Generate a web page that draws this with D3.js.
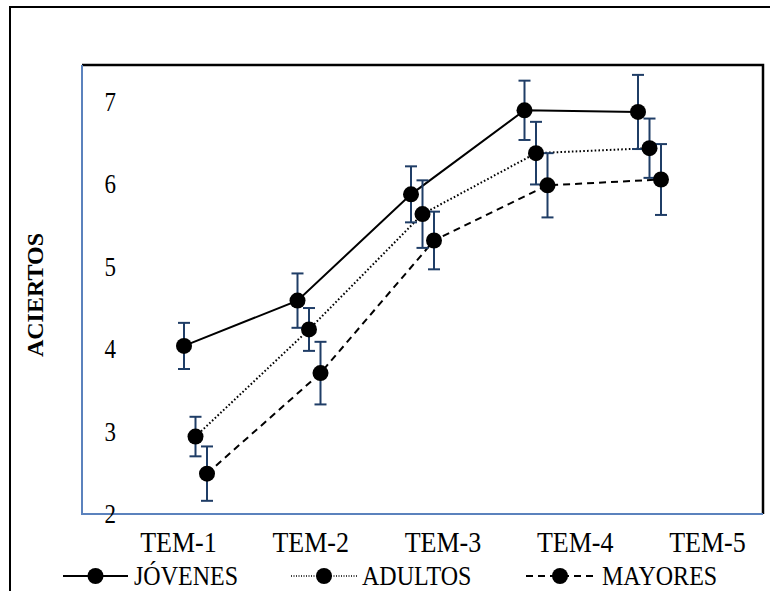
<!DOCTYPE html>
<html>
<head>
<meta charset="utf-8">
<script src="https://cdn.jsdelivr.net/npm/d3@7"></script>
<style>
  html, body { margin: 0; padding: 0; background: #fff; }
  svg { display: block; font-family: "Liberation Serif", "Times New Roman", serif; }
</style>
</head>
<body>
<svg id="chart" width="770" height="591"></svg>
<script>
// Sessions and group means (aciertos) with their error margins
const categories = ["TEM-1", "TEM-2", "TEM-3", "TEM-4", "TEM-5"];
const jovenes = [4.04, 4.59, 5.88, 6.90, 6.88];
const jovenesErr = [0.28, 0.33, 0.34, 0.36, 0.45];
const adultos = [2.94, 4.24, 5.64, 6.38, 6.44];
const adultosErr = [0.24, 0.26, 0.41, 0.38, 0.36];
const mayores = [2.49, 3.71, 5.32, 5.99, 6.06];
const mayoresErr = [0.33, 0.38, 0.35, 0.39, 0.43];
const yTicks = [2, 3, 4, 5, 6, 7];
const seriesNames = ["JÓVENES", "ADULTOS", "MAYORES"];

const series = [
  { name: seriesNames[0], values: jovenes, err: jovenesErr, offset: -1, dash: null, width: 2 },
  { name: seriesNames[1], values: adultos, err: adultosErr, offset: 0, dash: "1.6,2.2", width: 2 },
  { name: seriesNames[2], values: mayores, err: mayoresErr, offset: 1, dash: "7,5", width: 2 }
];

const svg = d3.select("#chart");
const plot = { left: 82, right: 763, top: 65, bottom: 514 };
const serif = "Liberation Serif, Times New Roman, serif";
const tall = 1.15; // glyphs are drawn slightly taller than wide

// Session slots 1..5 inside a 0..6 span; groups are nudged sideways within each slot
const x = d3.scaleLinear().domain([0, 6]).range([plot.left, plot.right]);
const groupShift = 11.5;
const y = d3.scaleLinear().domain([2, 7.45]).range([plot.bottom, plot.top]);
const xLabel = d3.scalePoint().domain(categories).range([178, 707]);

// Outer frame (left and top edges)
svg.append("path")
  .attr("d", "M10,591 L10,7 L770,7")
  .attr("fill", "none").attr("stroke", "#000").attr("stroke-width", 2);

// Plot frame: dark top/right, blue left/bottom
svg.append("path")
  .attr("d", `M${plot.left},${plot.top} L${plot.right},${plot.top} L${plot.right},${plot.bottom}`)
  .attr("fill", "none").attr("stroke", "#000").attr("stroke-width", 2.5);
svg.append("path")
  .attr("d", `M${plot.left},${plot.top} L${plot.left},${plot.bottom} L${plot.right},${plot.bottom}`)
  .attr("fill", "none").attr("stroke", "#5b82bd").attr("stroke-width", 2);

// Y axis tick labels (each tick group sits on its value, so scaling keeps them centred)
const yAxis = d3.axisLeft(y).tickValues(yTicks).tickSize(0).tickPadding(0).tickFormat(d3.format("d"));
const gy = svg.append("g").attr("transform", "translate(116,0)").call(yAxis);
gy.select(".domain").remove();
gy.selectAll("text")
  .attr("font-family", serif)
  .attr("font-size", 23).attr("fill", "#000")
  .attr("dy", "0.32em")
  .attr("transform", `scale(1,${tall})`);

// Y axis title
svg.append("text")
  .attr("transform", "translate(43,295) rotate(-90)")
  .attr("text-anchor", "middle")
  .attr("font-family", serif)
  .attr("font-size", 24).attr("font-weight", "bold")
  .text("ACIERTOS");

// X category labels
const xAxis = d3.axisBottom(xLabel).tickSize(0).tickPadding(0);
const gx = svg.append("g").attr("transform", "translate(0,531)").call(xAxis);
gx.select(".domain").remove();
gx.selectAll("text")
  .attr("font-family", serif)
  .attr("font-size", 26).attr("fill", "#000")
  .attr("transform", `scale(1,${tall})`);

const px = (s, i) => x(i + 1) + s.offset * groupShift;

// Series lines
const line = d3.line().x(d => d.x).y(d => d.y);
series.forEach(s => {
  const pts = s.values.map((v, i) => ({ x: px(s, i), y: y(v) }));
  svg.append("path")
    .attr("d", line(pts))
    .attr("fill", "none").attr("stroke", "#000")
    .attr("stroke-width", s.width)
    .attr("stroke-dasharray", s.dash);
});

// Error bars
const errColor = "#1f3d66";
const capHalf = 6;
series.forEach(s => {
  const g = svg.append("g").attr("stroke", errColor).attr("stroke-width", 2);
  s.values.forEach((v, i) => {
    const cx = px(s, i);
    const y0 = y(v - s.err[i]), y1 = y(v + s.err[i]);
    g.append("line").attr("x1", cx).attr("x2", cx).attr("y1", y0).attr("y2", y1);
    g.append("line").attr("x1", cx - capHalf).attr("x2", cx + capHalf).attr("y1", y0).attr("y2", y0);
    g.append("line").attr("x1", cx - capHalf).attr("x2", cx + capHalf).attr("y1", y1).attr("y2", y1);
  });
});

// Markers
series.forEach(s => {
  svg.append("g").selectAll("circle")
    .data(s.values)
    .join("circle")
    .attr("cx", (d, i) => px(s, i))
    .attr("cy", d => y(d))
    .attr("r", 8)
    .attr("fill", "#000");
});

// Legend
const legendY = 576;
const legendItems = [
  { s: series[0], x0: 63, x1: 128, tx: 134, dash: null, w: 2 },
  { s: series[1], x0: 291, x1: 357, tx: 362, dash: "1,1.5", w: 1.3 },
  { s: series[2], x0: 526, x1: 594, tx: 602, dash: "7,5", w: 2 }
];
legendItems.forEach(it => {
  const g = svg.append("g");
  g.append("line")
    .attr("x1", it.x0).attr("x2", it.x1).attr("y1", legendY).attr("y2", legendY)
    .attr("stroke", "#000").attr("stroke-width", it.w).attr("stroke-dasharray", it.dash);
  g.append("circle").attr("cx", (it.x0 + it.x1) / 2).attr("cy", legendY).attr("r", 8).attr("fill", "#000");
  const by = legendY + 9;
  g.append("text")
    .attr("x", it.tx).attr("y", by)
    .attr("font-family", serif)
    .attr("font-size", 24)
    .attr("transform", `translate(0,${by}) scale(1,${tall}) translate(0,${-by})`)
    .text(it.s.name);
});
</script>
</body>
</html>
